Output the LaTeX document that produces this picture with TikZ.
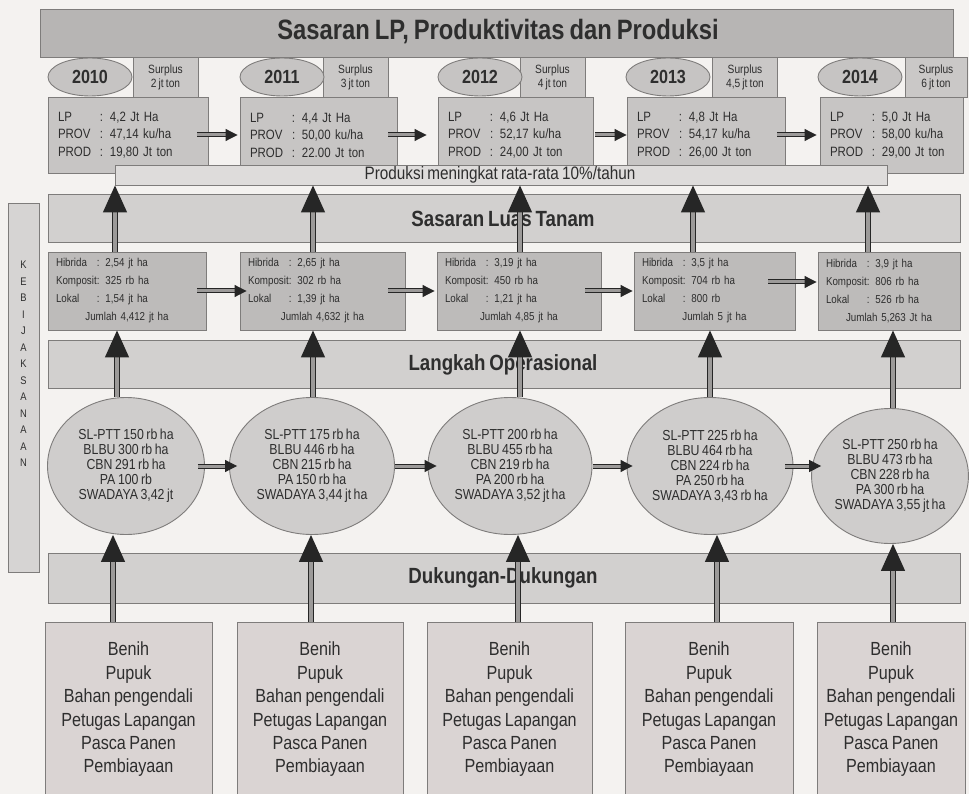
\documentclass[tikz,border=0pt]{standalone}
\usepackage{fontspec}
\setmainfont{Liberation Sans}[FakeStretch=0.85,WordSpace=0.75]
\usetikzlibrary{shapes.geometric,arrows.meta,calc}
\definecolor{bgc}{HTML}{F4F2F0}
\definecolor{edgec}{HTML}{7E7C7B}
\definecolor{txtc}{HTML}{2E2E2E}
\definecolor{bannerc}{HTML}{B7B5B4}
\definecolor{bandc}{HTML}{D2D0CF}
\definecolor{yearc}{HTML}{C6C4C3}
\definecolor{surc}{HTML}{CAC8C7}
\definecolor{lpc}{HTML}{C7C5C4}
\definecolor{barc}{HTML}{DEDCDB}
\definecolor{hybc}{HTML}{BDBBBA}
\definecolor{ellc}{HTML}{CFCDCC}
\definecolor{supc}{HTML}{DAD4D3}
\definecolor{colc}{HTML}{D6D4D3}
\definecolor{arrc}{HTML}{262626}
\definecolor{shaftc}{HTML}{9C9A99}
\newcommand\mytitlefont{\fontsize{28}{32}\selectfont\bfseries}
\newcommand\mybandfont{\fontsize{22}{26}\selectfont\bfseries}
\newcommand\myyearfont{\fontsize{19}{20}\selectfont\bfseries}
\newcommand\mysurfont{\fontsize{12}{14}\selectfont}
\newcommand\mylpfont{\fontsize{13.5}{17.5}\selectfont}
\newcommand\mybarfont{\fontsize{18}{20}\selectfont}
\newcommand\myhybfont{\fontsize{11.5}{18}\selectfont}
\newcommand\myellfont{\fontsize{14.5}{15}\selectfont}
\newcommand\mysupfont{\fontsize{19}{23.4}\selectfont}
\newcommand\mycolfont{\fontsize{11}{16.5}\selectfont}
\newcommand\mylp[3]{\makebox[42pt][l]{LP}: #1\\\makebox[42pt][l]{PROV}: #2\\\makebox[42pt][l]{PROD}: #3}
\newcommand\myhyb[4]{\makebox[41pt][l]{Hibrida}: #1\\\makebox[41pt][l]{Komposit}: #2\\\makebox[41pt][l]{Lokal}: #3\\\hfill Jumlah #4\hfill\null}
\newcommand\mysup{Benih\\Pupuk\\Bahan pengendali\\Petugas Lapangan\\Pasca Panen\\Pembiayaan}
\begin{document}
\begin{tikzpicture}[x=1pt,y=-1pt,
  box/.style={rectangle, draw=edgec, line width=0.9pt, inner sep=0pt, text=txtc},
  banner/.style={box, fill=bannerc, minimum width=913pt, minimum height=48pt, font=\mytitlefont},
  band/.style={box, fill=bandc, minimum width=912pt, minimum height=48pt, font=\mybandfont},
  yearell/.style={ellipse, draw=edgec, line width=0.9pt, fill=yearc, minimum width=84pt, minimum height=38pt, inner sep=0pt, font=\myyearfont, text=txtc},
  surbox/.style={box, fill=surc, minimum width=65pt, minimum height=40pt, align=center, font=\mysurfont},
  lpbox/.style={box, fill=lpc, minimum height=76pt, inner xsep=10pt, align=left, font=\mylpfont},
  bar/.style={box, fill=barc, minimum width=772pt, minimum height=20pt},
  hybbox/.style={box, fill=hybc, minimum height=78pt, inner xsep=8pt, align=left, font=\myhybfont},
  opell/.style={ellipse, draw=edgec, line width=0.9pt, fill=ellc, minimum height=137pt, inner sep=0pt, align=center, font=\myellfont, text=txtc},
  supbox/.style={box, fill=supc, minimum height=175pt, align=center, font=\mysupfont},
  colbox/.style={box, fill=colc, minimum width=31pt, minimum height=369pt},
  varrow/.style={draw=arrc, line width=1.3pt, double=shaftc, double distance=3.5pt, -{Triangle[length=27pt,width=24pt]}},
  harrow/.style={draw=arrc, line width=1pt, double=shaftc, double distance=3pt, -{Triangle[length=12pt,width=12pt]}}
]
\fill[bgc] (0,0) rectangle (969,794);
\useasboundingbox (0,0) rectangle (969,794);

% top banner
\node[banner] (title) at (496.5,33) {};
\node[font=\mytitlefont, text=txtc, inner sep=0pt] (titletext) at (498,32) {Sasaran LP, Produktivitas dan Produksi};

% surplus boxes
\node[surbox] (s1) at (165.5,77) {Surplus\\2 jt ton};
\node[surbox] (s2) at (355.5,77) {Surplus\\3 jt ton};
\node[surbox] (s3) at (552.5,77) {Surplus\\4 jt ton};
\node[surbox] (s4) at (745,77) {Surplus\\4,5 jt ton};
\node[surbox, minimum width=62pt] (s5) at (936,77) {Surplus\\6 jt ton};

% year ellipses
\node[yearell] (y1) at (90,77) {2010};
\node[yearell] (y2) at (282,77) {2011};
\node[yearell] (y3) at (480,77) {2012};
\node[yearell] (y4) at (668,77) {2013};
\node[yearell] (y5) at (860,77) {2014};

% LP boxes
\node[lpbox, text width=140pt] (lp1) at (128,135) {\mylp{4,2 Jt Ha}{47,14 ku/ha}{19,80 Jt ton}};
\node[lpbox, text width=137pt] (lp2) at (318.5,135) {\mylp{4,4 Jt Ha}{50,00 ku/ha}{22.00 Jt ton}};
\node[lpbox, text width=135pt] (lp3) at (515.5,135) {\mylp{4,6 Jt Ha}{52,17 ku/ha}{24,00 Jt ton}};
\node[lpbox, text width=138pt] (lp4) at (706,135) {\mylp{4,8 Jt Ha}{54,17 ku/ha}{26,00 Jt ton}};
\node[lpbox, text width=123pt] (lp5) at (891.5,135) {\mylp{5,0 Jt Ha}{58,00 ku/ha}{29,00 Jt ton}};

% bar
\node[bar] (bar) at (501,175) {};
\node[font=\mybarfont, text=txtc, inner sep=0pt] (bartext) at (500,175) {Produksi meningkat rata-rata 10\%/tahun};

% bands
\node[band] (band1) at (504,218.5) {};
\node[font=\mybandfont, text=txtc, inner sep=0pt] (band1t) at (503,219) {Sasaran Luas Tanam};
\node[band] (band2) at (504,364) {};
\node[font=\mybandfont, text=txtc, inner sep=0pt] (band2t) at (503,365) {Langkah Operasional};
\node[band, minimum height=50pt] (band3) at (504,578) {};
\node[font=\mybandfont, text=txtc, inner sep=0pt] (band3t) at (503,578) {Dukungan-Dukungan};

% hybrid boxes
\node[hybbox, text width=142pt] (h1) at (127,291) {\myhyb{2,54 jt ha}{325 rb ha}{1,54 jt ha}{4,412 jt ha}};
\node[hybbox, text width=149pt] (h2) at (322.5,291) {\myhyb{2,65 jt ha}{302 rb ha}{1,39 jt ha}{4,632 jt ha}};
\node[hybbox, text width=148pt] (h3) at (519,291) {\myhyb{3,19 jt ha}{450 rb ha}{1,21 jt ha}{4,85 jt ha}};
\node[hybbox, text width=145pt] (h4) at (714.5,291) {\myhyb{3,5 jt ha}{704 rb ha}{800 rb}{5 jt ha}};
\node[hybbox, text width=126pt] (h5) at (889,291) {\myhyb{3,9 jt ha}{806 rb ha}{526 rb ha}{5,263 Jt ha}};

% operational ellipses
\node[opell, minimum width=157pt] (e1) at (126,466) {SL-PTT 150 rb ha\\BLBU 300 rb ha\\CBN 291 rb ha\\PA 100 rb\\SWADAYA 3,42 jt};
\node[opell, minimum width=165pt] (e2) at (312,466) {SL-PTT 175 rb ha\\BLBU 446 rb ha\\CBN 215 rb ha\\PA 150 rb ha\\SWADAYA 3,44 jt ha};
\node[opell, minimum width=164pt] (e3) at (510,466) {SL-PTT 200 rb ha\\BLBU 455 rb ha\\CBN 219 rb ha\\PA 200 rb ha\\SWADAYA 3,52 jt ha};
\node[opell, minimum width=166pt] (e4) at (710,466) {SL-PTT 225 rb ha\\BLBU 464 rb ha\\CBN 224 rb ha\\PA 250 rb ha\\SWADAYA 3,43 rb ha};
\node[opell, minimum width=155pt, minimum height=135pt] (e5) at (890,476) {SL-PTT 250 rb ha\\BLBU 473 rb ha\\CBN 228 rb ha\\PA 300 rb ha\\SWADAYA 3,55 jt ha};

% support boxes
\node[supbox, minimum width=167pt] (b1) at (128.5,709.5) {\mysup};
\node[supbox, minimum width=166pt] (b2) at (320,709.5) {\mysup};
\node[supbox, minimum width=165pt] (b3) at (509.5,709.5) {\mysup};
\node[supbox, minimum width=168pt] (b4) at (709,709.5) {\mysup};
\node[supbox, minimum width=148pt] (b5) at (891,709.5) {\mysup};

% policy column
\node[colbox] (col) at (23.5,387.5) {};
\node[font=\mycolfont, text=txtc, align=center, inner sep=0pt] (colt) at (23.5,364) {K\\E\\B\\I\\J\\A\\K\\S\\A\\N\\A\\A\\N};

% horizontal arrows, LP row
\draw[harrow] ([xshift=-11pt]lp1.east) -- ([xshift=-2pt]lp2.west);
\draw[harrow] ([xshift=-9pt]lp2.east) -- ([xshift=-11pt]lp3.west);
\draw[harrow] ([xshift=2pt]lp3.east) -- (lp4.west);
\draw[harrow] ([xshift=-8pt]lp4.east) -- ([xshift=-3pt]lp5.west);

% horizontal arrows, hybrid row
\draw[harrow] ([xshift=-9pt]h1.east) -- ([xshift=7pt]h2.west);
\draw[harrow] ([xshift=-17pt]h2.east) -- ([xshift=-2pt]h3.west);
\draw[harrow] ([xshift=-16pt]h3.east) -- ([xshift=-1pt]h4.west);
\draw[harrow] ([xshift=-27pt,yshift=9pt]h4.east) -- ([xshift=-1pt,yshift=9pt]h5.west);

% horizontal arrows, ellipse row
\draw[harrow] ([xshift=-7pt]e1.east) -- ([xshift=8pt]e2.west);
\draw[harrow] (e2.east) -- ([xshift=9pt]e3.west);
\draw[harrow] ([xshift=1pt]e3.east) -- ([xshift=6pt]e4.west);
\draw[harrow] ([xshift=-8pt]e4.east) -- ($(e4.east -| e5.west)+(10,0)$);

% vertical arrows: hybrid -> production bar
\foreach \n/\dx in {1/-12,2/-9.5,3/1,4/-21.5,5/-21}
  \draw[varrow] ($(h\n.north)+(\dx,0)$) -- ($(h\n.north |- bar.south)+(\dx,0)$);
% vertical arrows: ellipses -> hybrid
\foreach \n/\dx in {1/-9,2/1,3/10,4/0,5/3}
  \draw[varrow] ($(e\n.north)+(\dx,0)$) -- ($(e\n.north |- h\n.south)+(\dx,0)$);
% vertical arrows: support boxes -> ellipses
\foreach \n/\dx in {1/-15.5,2/-9,3/8.5,4/8,5/2}
  \draw[varrow] ($(b\n.north)+(\dx,0)$) -- ($(b\n.north |- e\n.south)+(\dx,0)$);
\end{tikzpicture}
\end{document}
